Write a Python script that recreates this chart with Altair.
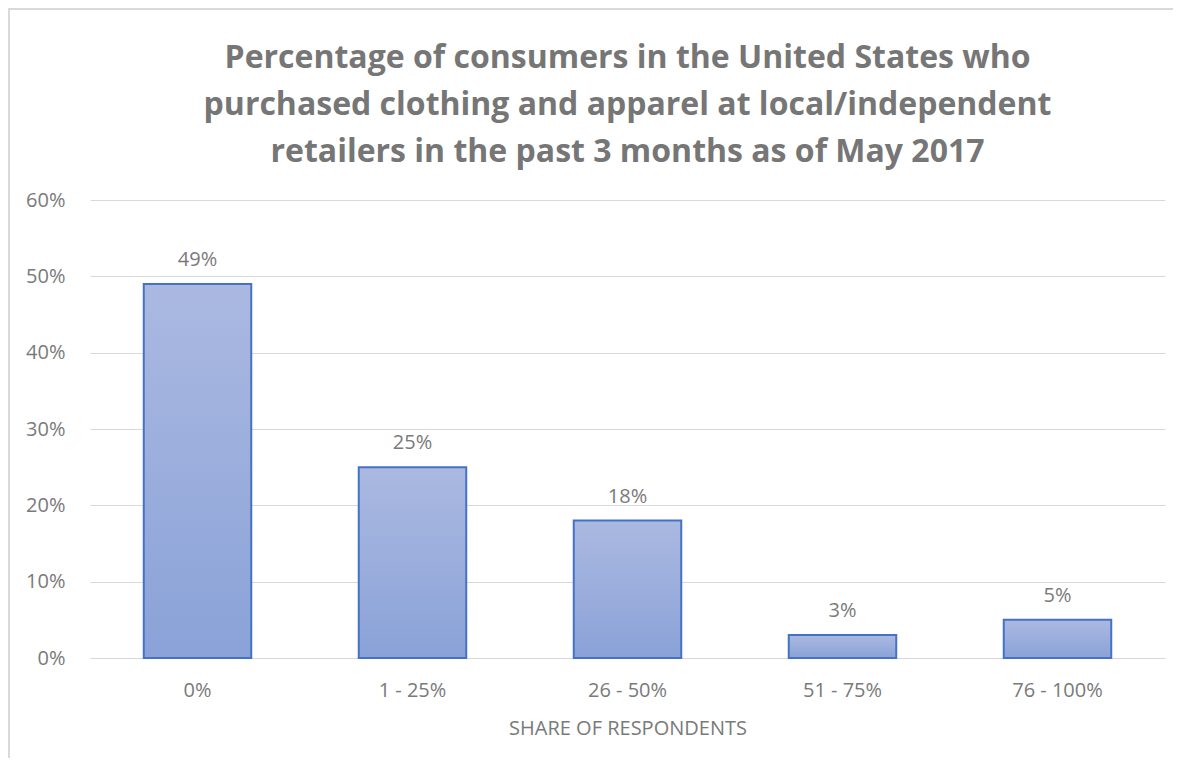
import altair as alt
import pandas as pd

categories = ["0%", "1 - 25%", "26 - 50%", "51 - 75%", "76 - 100%"]
values = [0.49, 0.25, 0.18, 0.03, 0.05]
labels = ["49%", "25%", "18%", "3%", "5%"]
title_lines = [
    "Percentage of consumers in the United States who",
    "purchased clothing and apparel at local/independent",
    "retailers in the past 3 months as of May 2017",
]

df = pd.DataFrame({"cat": categories, "val": values, "label": labels})

FONT = "Open Sans"
GRAY = "#7a7a7a"

x = alt.X("cat:N", sort=categories, title="SHARE OF RESPONDENTS",
          scale=alt.Scale(paddingInner=0.5, paddingOuter=0.25),
          axis=alt.Axis(labelAngle=0, ticks=False, domain=True, domainColor="#d9d9d9",
                        labelFontSize=20, labelColor=GRAY, labelFont=FONT, labelPadding=22,
                        titleFontSize=20, titleColor=GRAY, titleFont=FONT, titleFontWeight="normal",
                        titlePadding=18))
y = alt.Y("val:Q", title=None,
          scale=alt.Scale(domain=[0, 0.6]),
          axis=alt.Axis(format=".0%", values=[0, 0.1, 0.2, 0.3, 0.4, 0.5, 0.6], labelOverlap=False,
                        ticks=False, domain=False, gridColor="#d9d9d9",
                        labelFontSize=20, labelColor=GRAY, labelFont=FONT, labelPadding=25))

grad = alt.LinearGradient(gradient="linear",
                          stops=[alt.GradientStop(color="#abb9e1", offset=0),
                                 alt.GradientStop(color="#8aa2d8", offset=1)],
                          x1=0, x2=0, y1=0, y2=1)

bars = alt.Chart(df).mark_bar(color=grad, stroke="#4472c4", strokeWidth=2).encode(x=x, y=y)
text = alt.Chart(df).mark_text(dy=-14, baseline="bottom", fontSize=20, color=GRAY, font=FONT).encode(
    x=alt.X("cat:N", sort=categories), y="val:Q", text="label:N")

border = alt.Chart(df).mark_rect(fill=None, stroke="#d9d9d9", strokeWidth=2).encode(
    x=alt.value(-81), x2=alt.value(1200), y=alt.value(-191), y2=alt.value(700))

chart = alt.layer(border, bars, text).properties(
    width=1075, height=458,
    autosize=alt.AutoSizeParams(type="none"),
    padding={"left": 82, "top": 192, "right": 8, "bottom": 100},
    title=alt.TitleParams(text=title_lines, fontSize=32, fontWeight="bold", color="#767676",
                          font=FONT, lineHeight=47, offset=0, dy=161, anchor="middle"),
).configure_view(stroke=None)

chart.save("out.html", embed_options={"renderer": "svg", "actions": False})
